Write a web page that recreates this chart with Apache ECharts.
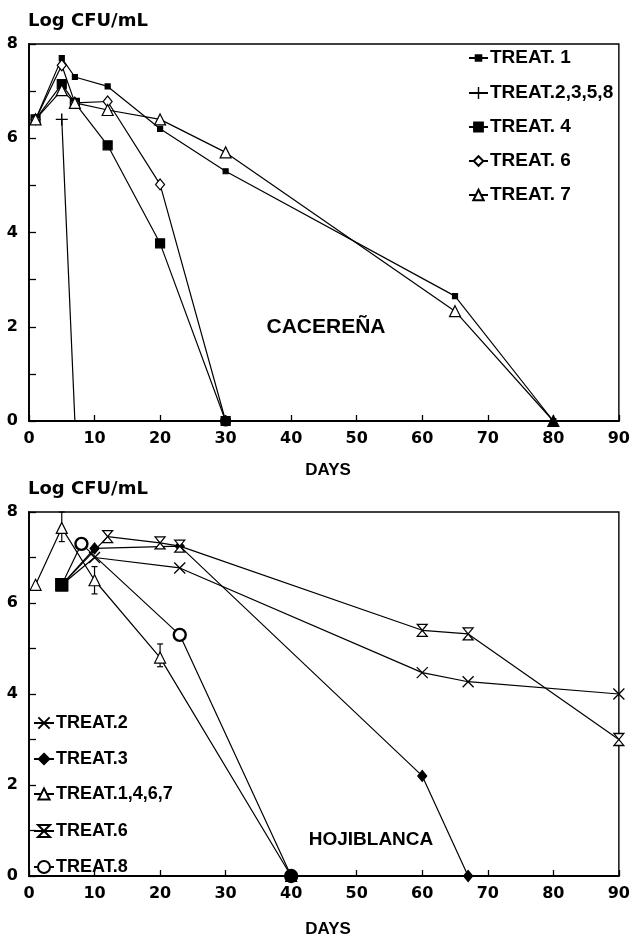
<!DOCTYPE html>
<html><head><meta charset="utf-8">
<script src="https://cdn.jsdelivr.net/npm/echarts@6/dist/echarts.min.js"></script>
<style>html,body{margin:0;padding:0;background:#fff}#c{width:633px;height:939px}</style>
</head><body><div id="c"></div>
<script>
// ---------- Top panel: CACEREÑA ----------
const topT1Days = [1, 5, 7, 12, 20, 30, 65, 80];
const topT1Vals = [6.4, 7.7, 7.3, 7.1, 6.2, 5.3, 2.65, 0];
const topT2358Days = [5, 7];
const topT2358Vals = [6.4, 0];
const topT4Days = [1, 5, 7, 12, 20, 30];
const topT4Vals = [6.4, 7.15, 6.75, 5.85, 3.77, 0];
const topT6Days = [1, 5, 7, 12, 20, 30];
const topT6Vals = [6.4, 7.55, 6.75, 6.78, 5.02, 0];
const topT7Days = [1, 5, 7, 12, 20, 30, 65, 80];
const topT7Vals = [6.4, 7.02, 6.75, 6.6, 6.4, 5.7, 2.33, 0];

// ---------- Bottom panel: HOJIBLANCA ----------
const botT2Days = [5, 10, 23, 60, 67, 90];
const botT2Vals = [6.4, 7.0, 6.77, 4.47, 4.27, 4.0];
const botT3Days = [5, 10, 23, 60, 67];
const botT3Vals = [6.4, 7.2, 7.25, 2.2, 0];
const botT1467Days = [1, 5, 10, 20, 40];
const botT1467Vals = [6.4, 7.65, 6.5, 4.8, 0];
const botT6Days = [5, 12, 20, 23, 60, 67, 90];
const botT6Vals = [6.4, 7.46, 7.32, 7.25, 5.4, 5.32, 3.0];
const botT8Days = [5, 8, 23, 40];
const botT8Vals = [6.4, 7.3, 5.3, 0];
const errDays = [5, 10, 20];
const errLow = [7.35, 6.2, 4.6];
const errHigh = [8.0, 6.8, 5.1];

const topNames = ['TREAT. 1', 'TREAT.2,3,5,8', 'TREAT. 4', 'TREAT. 6', 'TREAT. 7'];
const botNames = ['TREAT.2', 'TREAT.3', 'TREAT.1,4,6,7', 'TREAT.6', 'TREAT.8'];
const xTicks = [0, 10, 20, 30, 40, 50, 60, 70, 80, 90];
const yTicks = [0, 2, 4, 6, 8];

const zip = (d, v) => d.map((x, i) => [x, v[i]]);

const plusPath = 'path://M0,4.4H10V5.6H0Z M4.4,0H5.6V10H4.4Z';
const xPath = 'path://M0,0L10,10M10,0L0,10';
const hourglassPath = 'path://M0,0L10,0L0,10L10,10Z';

const lineStyle = {color: '#000', width: 1.2};
function ser(name, data, idx, symbol, size, itemStyle) {
  return {
    name, type: 'line', data, xAxisIndex: idx, yAxisIndex: idx,
    symbol, symbolSize: size, showAllSymbol: true,
    lineStyle, itemStyle: Object.assign({color: '#000', borderColor: '#000', borderWidth: 1.2}, itemStyle || {}),
    emphasis: {disabled: true}, z: 3
  };
}

const axisFont = {fontFamily: 'DejaVu Sans', fontWeight: 'bold', fontSize: 16, color: '#000'};
function xAx(gi) {
  return {
    type: 'value', gridIndex: gi, min: 0, max: 90, interval: 10,
    axisLine: {show: true, onZero: false, lineStyle: {color: '#000', width: 1.8}},
    axisTick: {show: true, inside: true, length: 6, lineStyle: {color: '#000', width: 1.3}},
    axisLabel: Object.assign({margin: 10, formatter: v => xTicks.includes(v) ? String(v) : ''}, axisFont),
    splitLine: {show: false}
  };
}
function yAx(gi) {
  return {
    type: 'value', gridIndex: gi, min: 0, max: 8, interval: 1,
    axisLine: {show: true, lineStyle: {color: '#000', width: 1.8}},
    axisTick: {show: true, inside: true, length: 7, lineStyle: {color: '#000', width: 1.3}},
    axisLabel: Object.assign({margin: 11, formatter: v => yTicks.includes(v) ? String(v) : ''}, axisFont),
    splitLine: {show: false}
  };
}

const t6data = zip(topT6Days, topT6Vals);
t6data[t6data.length - 1] = {value: t6data[t6data.length - 1], symbol: 'circle', symbolSize: 10, itemStyle: {color: '#000'}};
const t7data = zip(topT7Days, topT7Vals);
t7data[t7data.length - 1] = {value: t7data[t7data.length - 1], itemStyle: {color: '#000'}};
const t2358data = zip(topT2358Days, topT2358Vals);
t2358data[1] = {value: t2358data[1], symbol: 'none'};
const b8data = zip(botT8Days, botT8Vals);
b8data[0] = {value: b8data[0], symbol: 'rect', symbolSize: 11, itemStyle: {color: '#000'}};
b8data[b8data.length - 1] = {value: b8data[b8data.length - 1], itemStyle: {color: '#000'}};

const open = {color: '#fff'};
const series = [
  ser(topNames[0], zip(topT1Days, topT1Vals), 0, 'rect', 5),
  ser(topNames[1], t2358data, 0, plusPath, 12, {borderWidth: 0}),
  ser(topNames[2], zip(topT4Days, topT4Vals), 0, 'rect', 9),
  ser(topNames[3], t6data, 0, 'diamond', [9, 11], open),
  ser(topNames[4], t7data, 0, 'triangle', 11, open),
  ser(botNames[0], zip(botT2Days, botT2Vals), 1, xPath, 11, {color: 'transparent', borderWidth: 1.3}),
  ser(botNames[1], zip(botT3Days, botT3Vals), 1, 'diamond', [9, 11]),
  ser(botNames[2], zip(botT1467Days, botT1467Vals), 1, 'triangle', 11, open),
  ser(botNames[3], zip(botT6Days, botT6Vals), 1, hourglassPath, [10, 12], open),
  ser(botNames[4], b8data, 1, 'circle', 12, {color: '#fff', borderWidth: 2.4}),
  {
    type: 'custom', xAxisIndex: 1, yAxisIndex: 1, z: 2, silent: true,
    data: errDays.map((d, i) => [d, errLow[i], errHigh[i]]),
    renderItem: function (params, api) {
      const lo = api.coord([api.value(0), api.value(1)]);
      const hi = api.coord([api.value(0), api.value(2)]);
      const c = 3;
      return {type: 'group', children: [
        {type: 'line', shape: {x1: lo[0], y1: lo[1], x2: hi[0], y2: hi[1]}, style: {stroke: '#000', lineWidth: 1.2}},
        {type: 'line', shape: {x1: hi[0] - c, y1: hi[1], x2: hi[0] + c, y2: hi[1]}, style: {stroke: '#000', lineWidth: 1.2}},
        {type: 'line', shape: {x1: lo[0] - c, y1: lo[1], x2: lo[0] + c, y2: lo[1]}, style: {stroke: '#000', lineWidth: 1.2}}
      ]};
    }
  }
];

// one legend per entry so each icon can carry its own marker size
const topLegendY = [53, 88, 122, 156, 190];
const topLegendH = [7, 15, 11, 12, 13];
const botLegendY = [718, 754, 789, 826, 862];
const botLegendH = [14, 13, 14, 15, 15];
function leg(name, left, cy, h, fs, w) {
  return {
    data: [name], orient: 'vertical', left, top: cy - 10,
    itemWidth: w, itemHeight: h, itemGap: 0, selectedMode: false,
    textStyle: {fontFamily: 'Liberation Sans', fontWeight: 'bold', color: '#000', fontSize: fs, lineHeight: 20, padding: [0, 0, 0, -3]}
  };
}
const legends = [];
topNames.forEach((n, i) => legends.push(leg(n, 463, topLegendY[i], topLegendH[i], 19, 19)));
botNames.forEach((n, i) => legends.push(leg(n, 28, botLegendY[i], botLegendH[i], 18, 20)));

const chart = echarts.init(document.getElementById('c'), null, {renderer: 'canvas'});
chart.setOption({
  backgroundColor: '#fff',
  animation: false,
  grid: [
    {left: 29, right: 13, top: 44, height: 377, show: true, borderColor: '#000', borderWidth: 1.4, backgroundColor: 'transparent'},
    {left: 29, right: 13, top: 512, height: 364, show: true, borderColor: '#000', borderWidth: 1.4, backgroundColor: 'transparent'}
  ],
  xAxis: [xAx(0), xAx(1)],
  yAxis: [yAx(0), yAx(1)],
  legend: legends,
  graphic: [
    {type: 'text', left: 28, top: 12, style: {text: 'Log CFU/mL', font: 'bold 18px "DejaVu Sans"', fill: '#000'}},
    {type: 'text', left: 28, top: 480, style: {text: 'Log CFU/mL', font: 'bold 18px "DejaVu Sans"', fill: '#000'}},
    {type: 'text', x: 328, y: 470, style: {text: 'DAYS', font: 'bold 17px "Liberation Sans"', fill: '#000', align: 'center', verticalAlign: 'middle'}},
    {type: 'text', x: 328, y: 929, style: {text: 'DAYS', font: 'bold 17px "Liberation Sans"', fill: '#000', align: 'center', verticalAlign: 'middle'}},
    {type: 'text', x: 326, y: 327, style: {text: 'CACEREÑA', font: 'bold 21px "Liberation Sans"', fill: '#000', align: 'center', verticalAlign: 'middle'}},
    {type: 'text', x: 371, y: 840, style: {text: 'HOJIBLANCA', font: 'bold 19px "Liberation Sans"', fill: '#000', align: 'center', verticalAlign: 'middle'}}
  ],
  series
});
</script>
</body></html>
